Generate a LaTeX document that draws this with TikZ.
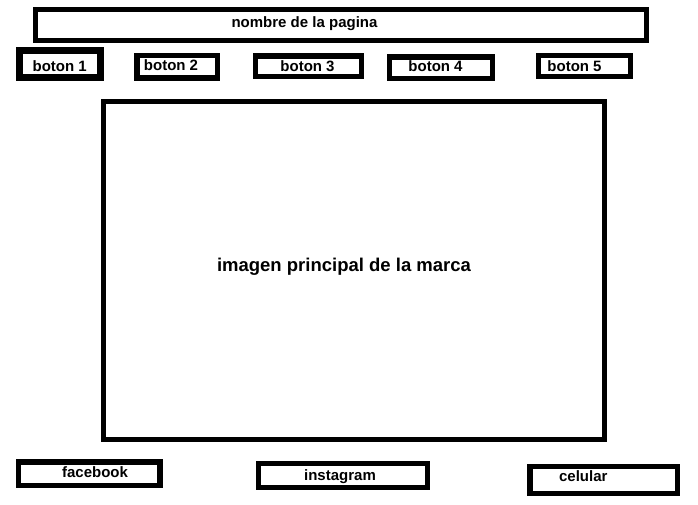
\documentclass[tikz,border=0pt]{standalone}
\usepackage{fontspec}
\setmainfont{Liberation Sans}
\begin{document}
\begin{tikzpicture}[x=1pt, y=-1pt,
        caja/.style={rectangle, draw=black, line width=5pt, inner sep=0pt},
        texto/.style={anchor=base, inner sep=0pt, font=\bfseries\fontsize{15}{18}\selectfont}
    ]
        \useasboundingbox (0,0) rectangle (698,504);

        % Encabezado
        \node[caja, minimum width=611pt, minimum height=31pt] (titulo) at (341,25) {};
        \node[texto] (titulo_txt) at (304.5,27.5) {nombre de la pagina};

        % Botones del menu
        \node[caja, line width=7pt, minimum width=81pt, minimum height=27pt] (boton1) at (60,64) {};
        \node[caja, line width=5.5pt, minimum width=80.5pt, minimum height=22.8pt] (boton2) at (177,66.8) {};
        \node[caja, line width=5.3pt, minimum width=106pt, minimum height=20.7pt] (boton3) at (308.3,66.3) {};
        \node[caja, line width=5.3pt, minimum width=103pt, minimum height=21.4pt] (boton4) at (440.8,67.7) {};
        \node[caja, minimum width=92.3pt, minimum height=21pt] (boton5) at (584.7,66.3) {};
        \node[texto] (boton1_txt) at (59.7,71) {boton 1};
        \node[texto] (boton2_txt) at (171,70.7) {boton 2};
        \node[texto] (boton3_txt) at (307.5,71.5) {boton 3};
        \node[texto] (boton4_txt) at (435.5,71.5) {boton 4};
        \node[texto] (boton5_txt) at (574.5,71) {boton 5};

        % Imagen principal
        \node[caja, minimum width=501pt, minimum height=338pt] (imagen) at (354,270.5) {};
        \node[texto, font=\bfseries\fontsize{18.5}{22}\selectfont] (imagen_txt) at (344,271) {imagen principal de la marca};

        % Redes sociales
        \node[caja, line width=5.5pt, minimum width=141.2pt, minimum height=23.8pt] (facebook) at (89.3,473.7) {};
        \node[caja, minimum width=169pt, minimum height=24pt] (instagram) at (343,475.5) {};
        \node[caja, line width=5.3pt, minimum width=147.4pt, minimum height=26.7pt] (celular) at (603.7,480) {};
        \node[texto] (facebook_txt) at (95,477.3) {facebook};
        \node[texto] (instagram_txt) at (340,480) {instagram};
        \node[texto] (celular_txt) at (583.3,481.7) {celular};

    \end{tikzpicture}
\end{document}
